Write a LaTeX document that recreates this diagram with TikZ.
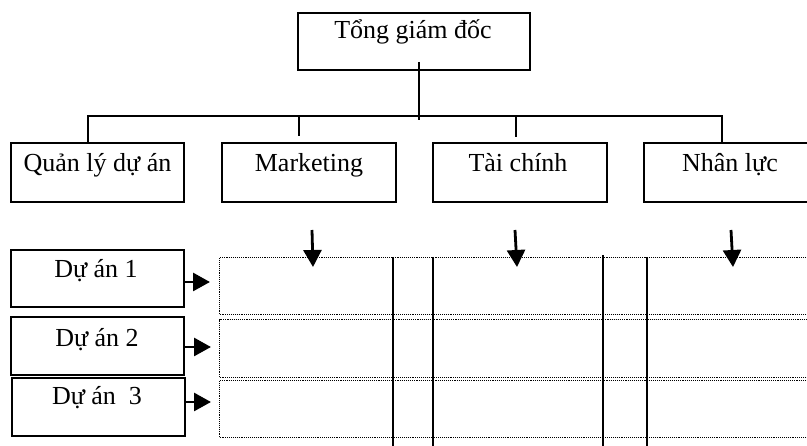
\documentclass[tikz,border=0pt]{standalone}
\usepackage{fontspec}
\setmainfont{Liberation Serif}
\usetikzlibrary{arrows.meta}
\begin{document}
\begin{tikzpicture}[x=1pt,y=-1pt,
  box/.style={draw=black,line width=2.8pt,rectangle,inner sep=0pt},
  lbl/.style={anchor=base,inner sep=0pt,font=\fontsize{26}{30}\selectfont},
  link/.style={line width=2.8pt},
  arr/.style={line width=2.8pt,-{Triangle[length=17pt,width=18pt]}},
  rowbox/.style={draw=black,line width=1.2pt,dash pattern=on 1pt off 0.9pt},
  col/.style={line width=2.3pt}]
\clip (0,0) rectangle (807,446);
\fill[white] (0,0) rectangle (807,446);

% top level
\node[box,minimum width=232pt,minimum height=57pt] (top) at (414,41.5) {};
\node[lbl] (top-t) at (413,39) {Tổng giám đốc};

% departments
\node[box,minimum width=173pt,minimum height=59pt] (qa) at (97.5,172.5) {};
\node[box,minimum width=174pt,minimum height=59pt] (mk) at (309,172.5) {};
\node[box,minimum width=174pt,minimum height=59pt] (tc) at (520,172.5) {};
\node[box,minimum width=172pt,minimum height=59pt] (nl) at (730,172.5) {};
\node[lbl] (qa-t) at (97.5,172) {Quản lý dự án};
\node[lbl] (mk-t) at (309,172) {Marketing};
\node[lbl] (tc-t) at (518,172) {Tài chính};
\node[lbl] (nl-t) at (730,172) {Nhân lực};

% projects
\node[box,minimum width=173pt,minimum height=57pt] (d1) at (97.5,278.5) {};
\node[box,minimum width=173pt,minimum height=58pt] (d2) at (97.5,346) {};
\node[box,minimum width=173pt,minimum height=58pt] (d3) at (98.5,407) {};
\node[lbl] (d1-t) at (96,278) {Dự án 1};
\node[lbl] (d2-t) at (97,347) {Dự án 2};
\node[lbl] (d3-t) at (97,405) {Dự án\ \ 3};

% tree connectors
\coordinate (hubtop) at (419,62);
\coordinate (hub) at (419,120);
\coordinate (bL) at (88,116);
\coordinate (bR) at (722,116);
\coordinate (sM) at (299,136);
\coordinate (sT) at (516,137);
\draw[link] (hubtop) -- (hub);
\draw[link] (bL |- qa.north) -- (bL) -- (bR) -- (bR |- nl.north);
\draw[link] (sM |- bL) -- (sM);
\draw[link] (sT |- bL) -- (sT);

% project grid rows
\node[rowbox,minimum width=620pt,minimum height=57pt,anchor=north west] (r1) at (219,257) {};
\node[rowbox,minimum width=620pt,minimum height=58pt,anchor=north west] (r2) at (219,319) {};
\node[rowbox,minimum width=620pt,minimum height=57pt,anchor=north west] (r3) at (219,380) {};

% grid columns
\draw[col] (393,257) -- (393,450);
\draw[col] (433,257) -- (433,450);
\draw[col] (603,255) -- (603,450);
\draw[col] (647,257) -- (647,450);

% arrows into the grid
\coordinate (a1) at (210,282);
\coordinate (a2) at (211,347);
\coordinate (a3) at (211,402);
\draw[arr] (d1.east |- a1) -- (a1);
\draw[arr] (d2.east |- a2) -- (a2);
\draw[arr] (d3.east |- a3) -- (a3);

\coordinate (m1) at (312,230);
\coordinate (m2) at (313,267);
\coordinate (t1) at (515,230);
\coordinate (t2) at (517,267);
\coordinate (n1) at (731,230);
\coordinate (n2) at (733,267);
\draw[arr] (m1) -- (m2);
\draw[arr] (t1) -- (t2);
\draw[arr] (n1) -- (n2);
\end{tikzpicture}
\end{document}
